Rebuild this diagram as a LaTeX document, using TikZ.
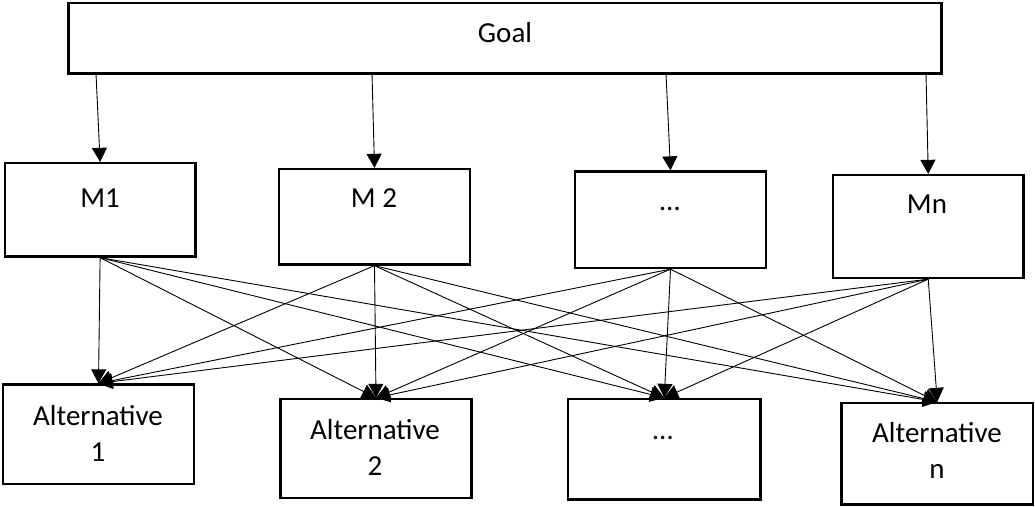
\documentclass[tikz,border=0pt]{standalone}
\usepackage{fontspec}
\setmainfont{Carlito}
\usetikzlibrary{arrows.meta}
\begin{document}
\begin{tikzpicture}[x=1pt,y=-1pt,
  box/.style={draw,line width=2.3pt,inner sep=0pt},
  txt/.style={font=\fontsize{29}{36}\selectfont,align=center,anchor=base,inner sep=0pt},
  link/.style={line width=0.9pt,-{Triangle[length=14pt,width=15pt]}}]
\useasboundingbox (0,0) rectangle (1035,506);

% goal
\node[box,minimum width=873pt,minimum height=70.5pt] (goal) at (505,38.25) {};
\node[txt] (goaltxt) at (505,42) {Goal};

% criteria
\node[box,minimum width=190.8pt,minimum height=93.5pt] (m1) at (100.1,209.75) {};
\node[box,minimum width=191pt,minimum height=95.5pt] (m2) at (374.5,216.75) {};
\node[box,minimum width=191pt,minimum height=96.5pt] (m3) at (670.5,219.75) {};
\node[box,minimum width=190.5pt,minimum height=103pt] (m4) at (928.25,226.5) {};
\node[txt] (m1txt) at (100,207) {M1};
\node[txt] (m2txt) at (374,207) {M 2};
\node[txt] (m3txt) at (670,210) {…};
\node[txt] (m4txt) at (927,213) {Mn};

% alternatives (base anchor sits on the last line)
\node[box,minimum width=191pt,minimum height=99.5pt] (a1) at (98.5,434.25) {};
\node[box,minimum width=191pt,minimum height=99pt] (a2) at (376,448.5) {};
\node[box,minimum width=192.5pt,minimum height=100.5pt] (a3) at (664.25,449.25) {};
\node[box,minimum width=191.5pt,minimum height=101.5pt] (a4) at (937.25,453.75) {};
\node[txt] (a1txt) at (98,461) {Alternative\\1};
\node[txt] (a2txt) at (375,475) {Alternative\\2};
\node[txt] (a3txt) at (663,439) {…};
\node[txt] (a4txt) at (937,478) {Alternative\\n};

% goal to criteria
\coordinate (g1) at (96,73.5);
\coordinate (g2) at (372,73.5);
\coordinate (g3) at (666,73.5);
\coordinate (g4) at (926,73.5);
\foreach \i in {1,...,4} \draw[link] (g\i) -- (m\i.north);

% criteria to alternatives
\foreach \i in {1,...,4}
  \foreach \j in {1,...,4}
    \draw[link] (m\i.south) -- (a\j.north);
\end{tikzpicture}
\end{document}
